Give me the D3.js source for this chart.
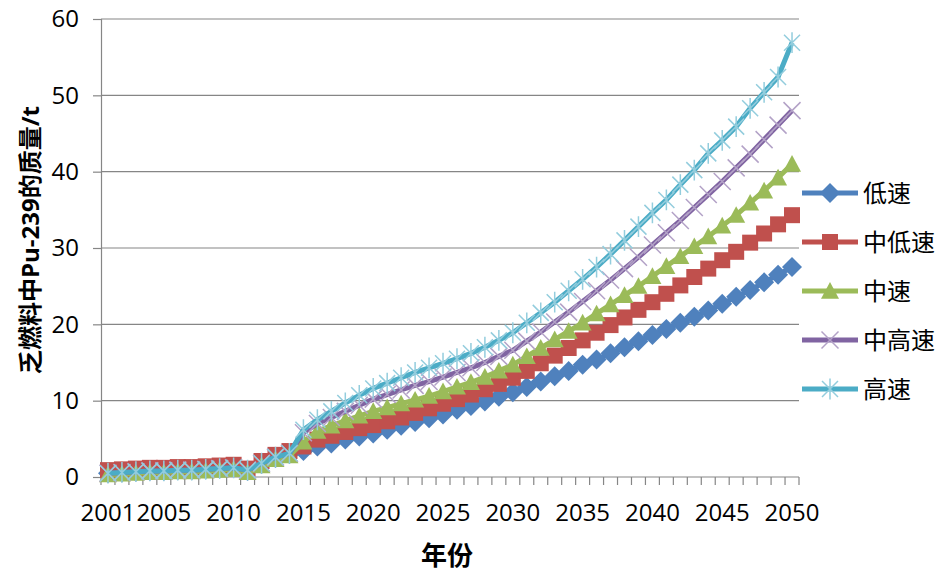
<!DOCTYPE html>
<html>
<head>
<meta charset="utf-8">
<script src="https://cdn.jsdelivr.net/npm/d3@7"></script>
<style>
  body { margin: 0; background: #fff; }
  text { font-family: "Open Sans", "Noto Sans CJK SC", sans-serif; fill: #000; }
</style>
</head>
<body>
<div id="chart"></div>
<script>
// years 2001 - 2050
var years = d3.range(2001, 2051);
var tickYears = [2001, 2005, 2010, 2015, 2020, 2025, 2030, 2035, 2040, 2045, 2050];
var yTicks = [0, 10, 20, 30, 40, 50, 60];
var seriesNames = ["低速", "中低速", "中速", "中高速", "高速"];

var lowSpeed = [0.5,0.6,0.7,0.8,0.8,0.9,0.9,1.0,1.1,1.2,0.8,1.7,2.5,3.0,
  3.4,4.0,4.4,4.9,5.3,5.7,6.2,6.7,7.2,7.7,8.2,8.8,9.3,9.9,10.5,11.1,
  11.8,12.5,13.2,13.9,14.7,15.4,16.2,17.0,17.8,18.6,19.4,20.2,21.0,21.8,22.7,23.6,24.5,25.5,26.5,27.5];
var midLowSpeed = [0.9,1.0,1.1,1.2,1.2,1.3,1.3,1.4,1.5,1.6,1.1,2.1,2.9,3.4,
  4.0,4.9,5.4,5.9,6.4,6.8,7.3,7.8,8.4,9.0,9.6,10.2,10.8,11.5,12.2,13.0,
  13.9,14.9,15.9,16.9,17.9,18.9,19.9,20.9,21.9,22.9,24.0,25.1,26.2,27.3,28.4,29.5,30.7,31.9,33.1,34.3];
var midSpeed = [0.3,0.4,0.5,0.6,0.6,0.7,0.7,0.8,0.9,1.0,0.6,1.5,2.3,2.8,
  4.6,6.0,6.7,7.4,8.0,8.6,9.1,9.6,10.1,10.6,11.2,11.8,12.4,13.1,13.9,14.7,
  15.8,16.9,18.0,19.1,20.2,21.4,22.6,23.8,25.0,26.3,27.6,28.9,30.2,31.5,32.9,34.3,35.9,37.5,39.2,41.0];
var midHighSpeed = [0.5,0.6,0.7,0.8,0.8,0.9,0.9,1.0,1.1,1.2,0.9,1.8,2.6,3.1,
  5.8,7.0,7.8,8.6,9.4,10.2,10.8,11.4,12.0,12.5,13.1,13.7,14.3,15.0,15.8,16.6,
  17.8,19.0,20.3,21.6,23.0,24.4,25.8,27.3,28.8,30.4,32.0,33.6,35.3,37.0,38.7,40.5,42.3,44.2,46.1,48.0];
var highSpeed = [0.5,0.6,0.7,0.8,0.8,0.9,0.9,1.0,1.1,1.2,0.9,1.8,2.6,3.1,
  6.2,7.5,8.6,9.7,10.7,11.6,12.3,13.0,13.7,14.3,14.9,15.5,16.2,17.0,17.9,18.9,
  20.2,21.5,22.9,24.4,25.9,27.5,29.2,31.0,32.8,34.6,36.3,38.3,40.2,42.4,44.1,45.9,48.3,50.4,52.4,56.9];

var allValues = [lowSpeed, midLowSpeed, midSpeed, midHighSpeed, highSpeed];
var colors = ["#4F81BD", "#C0504D", "#9BBB59", "#8064A2", "#4BACC6"];
var markerColors = ["#4F81BD", "#C0504D", "#9BBB59", "#B3A2C7", "#93CDDD"];

// custom marker shapes (size = half width in px)
var diamond = { draw: function(c, s){ c.moveTo(0,-s); c.lineTo(s,0); c.lineTo(0,s); c.lineTo(-s,0); c.closePath(); } };
var square = { draw: function(c, s){ c.rect(-s,-s,2*s,2*s); } };
var triangle = { draw: function(c, s){ c.moveTo(0,-s); c.lineTo(s,s*0.85); c.lineTo(-s,s*0.85); c.closePath(); } };
var cross = { draw: function(c, s){ c.moveTo(-s,-s); c.lineTo(s,s); c.moveTo(s,-s); c.lineTo(-s,s); } };
var star = { draw: function(c, s){ c.moveTo(-s,-s); c.lineTo(s,s); c.moveTo(s,-s); c.lineTo(-s,s); c.moveTo(0,-s*1.3); c.lineTo(0,s*1.3); } };
var shapes = [diamond, square, triangle, cross, star];
var sizes = [10, 8, 9, 8.5, 8];
var filled = [true, true, true, false, false];

var width = 946, height = 576;
var margin = {top: 19, right: 147, bottom: 99, left: 101};

var svg = d3.select("#chart").append("svg")
  .attr("width", width).attr("height", height);

var x = d3.scaleBand().domain(years).range([margin.left, width - margin.right]).padding(0);
var y = d3.scaleLinear().domain([0, 60]).range([height - margin.bottom, margin.top]);
var axisColor = "#868686";

// gridlines
svg.append("g").selectAll("line").data(yTicks.slice(1)).enter().append("line")
  .attr("x1", margin.left).attr("x2", width - margin.right)
  .attr("y1", d => y(d)).attr("y2", d => y(d))
  .attr("stroke", axisColor).attr("stroke-width", 1.2);

// y axis
var yAxis = svg.append("g")
  .attr("transform", "translate(" + margin.left + ",0)")
  .call(d3.axisLeft(y).tickValues(yTicks).tickSize(8).tickPadding(14));
yAxis.select(".domain").attr("stroke", axisColor).attr("stroke-width", 1.2);
yAxis.selectAll(".tick line").attr("stroke", axisColor).attr("stroke-width", 1.2);
yAxis.selectAll("text").style("font-size", "24px").attr("fill", "#000");

// x axis: labels at category centres, ticks between categories
var xAxis = svg.append("g")
  .attr("transform", "translate(0," + y(0) + ")")
  .call(d3.axisBottom(x).tickValues(tickYears).tickSize(0).tickPadding(27));
xAxis.select(".domain").remove();
xAxis.selectAll("text").style("font-size", "24px").attr("fill", "#000");
svg.append("line")
  .attr("x1", margin.left).attr("x2", width - margin.right)
  .attr("y1", y(0)).attr("y2", y(0))
  .attr("stroke", axisColor).attr("stroke-width", 1.2);
svg.append("g").selectAll("line").data(years.concat([null])).enter().append("line")
  .attr("x1", d => d === null ? x(2050) + x.bandwidth() : x(d))
  .attr("x2", d => d === null ? x(2050) + x.bandwidth() : x(d))
  .attr("y1", y(0)).attr("y2", y(0) + 8)
  .attr("stroke", axisColor).attr("stroke-width", 1.2);

// series
var line = d3.line()
  .x((d, i) => x(years[i]) + x.bandwidth() / 2)
  .y(d => y(d));

allValues.forEach(function(vals, k){
  var g = svg.append("g");
  g.append("path").datum(vals)
    .attr("d", line)
    .attr("fill", "none")
    .attr("stroke", colors[k])
    .attr("stroke-width", 5)
    .attr("stroke-linejoin", "round");
  g.selectAll(".m").data(vals).enter().append("path")
    .attr("transform", (d, i) => "translate(" + (x(years[i]) + x.bandwidth() / 2) + "," + y(d) + ")")
    .attr("d", d3.symbol(shapes[k], sizes[k]))
    .attr("fill", filled[k] ? markerColors[k] : "none")
    .attr("stroke", markerColors[k])
    .attr("stroke-width", filled[k] ? 0 : 1.5);
});

// legend
var legend = svg.append("g");
seriesNames.forEach(function(name, k){
  var ly = 193 + k * 49;
  legend.append("line")
    .attr("x1", 802).attr("x2", 858).attr("y1", ly).attr("y2", ly)
    .attr("stroke", colors[k]).attr("stroke-width", 5);
  legend.append("path")
    .attr("transform", "translate(830," + ly + ")")
    .attr("d", d3.symbol(shapes[k], sizes[k]))
    .attr("fill", filled[k] ? markerColors[k] : "none")
    .attr("stroke", markerColors[k])
    .attr("stroke-width", filled[k] ? 0 : 1.5);
  legend.append("text")
    .attr("x", 863).attr("y", ly)
    .attr("dy", "0.36em")
    .style("font-family", "'Noto Sans CJK SC', sans-serif")
    .style("font-size", "24px")
    .text(name);
});

// axis titles
svg.append("text")
  .attr("transform", "translate(31,240) rotate(-90)")
  .attr("text-anchor", "middle")
  .attr("dy", "0.35em")
  .style("font-size", "24px")
  .style("font-weight", "bold")
  .text("乏燃料中Pu-239的质量/t");

svg.append("text")
  .attr("x", 447).attr("y", 556)
  .attr("text-anchor", "middle")
  .attr("dy", "0.35em")
  .style("font-family", "'Noto Sans CJK SC', sans-serif")
  .style("font-size", "26px")
  .style("font-weight", "bold")
  .text("年份");
</script>
</body>
</html>
